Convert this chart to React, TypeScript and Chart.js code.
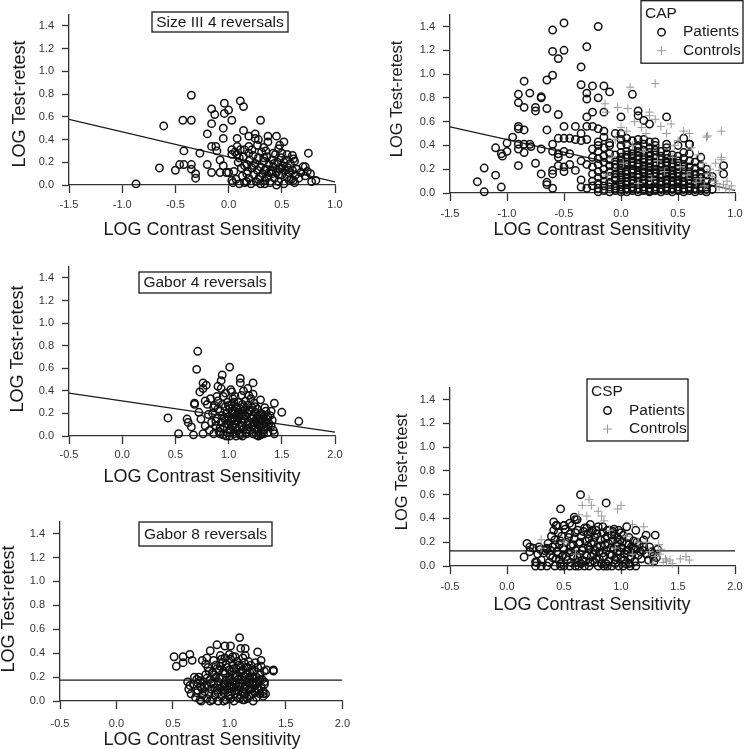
import React, { useEffect, useRef } from 'react';
import { Chart, registerables } from 'chart.js';
Chart.register(...registerables);

const FONT = '"Liberation Sans", Arial, Helvetica, sans-serif';

// ---------- tick labels ----------
const yTickValues = [0, 0.2, 0.4, 0.6, 0.8, 1.0, 1.2, 1.4];
const xTicksWide = [-1.5, -1.0, -0.5, 0.0, 0.5, 1.0];
const xTicksGabor = [-0.5, 0.0, 0.5, 1.0, 1.5, 2.0];

// ---------- Size III 4 reversals ----------
const sizeIIIPatients = [
  [-0.87, 0.01], [-0.65, 0.15], [-0.61, 0.52], [-0.5, 0.13], [-0.46, 0.18], [-0.42, 0.18], [-0.43, 0.57],
  [-0.42, 0.3], [-0.35, 0.79], [-0.35, 0.57], [-0.35, 0.18], [-0.35, 0.14], [-0.31, 0.1], [-0.31, 0.06],
  [-0.27, 0.28], [-0.2, 0.45], [-0.2, 0.18], [-0.16, 0.67], [-0.16, 0.54], [-0.16, 0.34], [-0.16, 0.11],
  [-0.13, 0.62], [-0.12, 0.34], [-0.11, 0.3], [-0.08, 0.22], [-0.08, 0.11], [-0.04, 0.72], [-0.04, 0.63],
  [-0.05, 0.5], [-0.05, 0.41], [-0.05, 0.17], [0.0, 0.66], [-0.02, 0.11], [0.0, 0.11], [0.03, 0.57],
  [0.03, 0.31], [0.03, 0.27], [0.03, 0.04], [0.04, 0.02], [0.08, 0.41], [0.08, 0.34], [0.08, 0.27],
  [0.11, 0.74], [0.14, 0.69], [0.14, 0.48], [0.11, 0.31], [0.15, 0.17], [0.19, 0.43], [0.19, 0.34],
  [0.19, 0.28], [0.17, 0.1], [0.17, 0.03], [0.25, 0.45], [0.25, 0.41], [0.28, 0.4], [0.3, 0.57],
  [0.33, 0.33], [0.33, 0.24], [0.34, 0.13], [0.34, 0.01], [0.37, 0.43], [0.37, 0.38], [0.45, 0.43],
  [0.48, 0.35], [0.5, 0.28], [0.52, 0.38], [0.6, 0.26], [0.61, 0.23], [0.61, 0.04], [0.72, 0.16],
  [0.75, 0.28], [0.77, 0.1], [0.78, 0.03], [0.82, 0.04],
  [0.05, 0.12], [0.07, 0.05], [0.09, 0.2], [0.1, 0.01], [0.12, 0.15], [0.13, 0.08], [0.14, 0.25],
  [0.15, 0.02], [0.17, 0.18], [0.18, 0.12], [0.19, 0.06], [0.2, 0.22], [0.21, 0.01], [0.22, 0.15],
  [0.23, 0.26], [0.24, 0.09], [0.25, 0.19], [0.26, 0.03], [0.27, 0.13], [0.28, 0.24], [0.29, 0.07],
  [0.3, 0.16], [0.31, 0.29], [0.32, 0.1], [0.33, 0.21], [0.34, 0.04], [0.35, 0.14], [0.36, 0.25],
  [0.37, 0.08], [0.38, 0.18], [0.39, 0.02], [0.4, 0.12], [0.41, 0.22], [0.42, 0.16], [0.43, 0.06],
  [0.44, 0.27], [0.45, 0.11], [0.46, 0.2], [0.47, 0.03], [0.48, 0.14], [0.49, 0.24], [0.5, 0.09],
  [0.51, 0.17], [0.52, 0.01], [0.53, 0.13], [0.54, 0.22], [0.55, 0.07], [0.56, 0.15], [0.57, 0.11],
  [0.58, 0.19], [0.59, 0.05], [0.6, 0.13], [0.62, 0.02], [0.63, 0.09], [0.64, 0.14], [0.66, 0.06],
  [0.68, 0.11], [0.7, 0.16], [0.72, 0.08], [0.74, 0.12], [0.22, 0.31], [0.27, 0.35], [0.35, 0.3],
  [0.42, 0.28], [0.47, 0.32], [0.15, 0.31], [0.1, 0.24], [0.06, 0.29], [0.3, 0.01], [0.45, 0.0],
  [0.55, 0.27], [0.62, 0.21], [0.38, 0.11], [0.43, 0.19], [0.47, 0.09], [0.52, 0.2], [0.28, 0.05],
  [0.24, 0.17], [0.36, 0.06], [0.41, 0.1], [0.5, 0.15], [0.57, 0.04],
];
const sizeIIIFit = [[-1.5, 0.577], [1.0, 0.028]];

// ---------- CAP ----------
const capPatientsSparse = [
  [-1.26, 0.095], [-1.2, 0.21], [-1.2, 0.01], [-1.1, 0.38], [-1.1, 0.15], [-1.05, 0.05], [-1.05, 0.33],
  [-1.04, 0.31], [-1.0, 0.42], [-1.0, 0.35], [-0.95, 0.47], [-0.9, 0.83], [-0.9, 0.76], [-0.9, 0.56],
  [-0.9, 0.54], [-0.9, 0.41], [-0.9, 0.37], [-0.9, 0.23], [-0.85, 0.94], [-0.85, 0.72], [-0.85, 0.53],
  [-0.85, 0.41], [-0.85, 0.34], [-0.8, 0.84], [-0.8, 0.41], [-0.79, 0.39], [-0.75, 0.72], [-0.75, 0.69],
  [-0.75, 0.25], [-0.7, 0.81], [-0.7, 0.8], [-0.7, 0.37], [-0.7, 0.16], [-0.65, 0.95], [-0.65, 0.71],
  [-0.65, 0.53], [-0.65, 0.09], [-0.65, 0.07], [-0.6, 1.37], [-0.6, 1.19], [-0.6, 0.99], [-0.6, 0.41],
  [-0.6, 0.35], [-0.6, 0.19], [-0.6, 0.16], [-0.6, 0.04], [-0.55, 1.13], [-0.55, 0.66], [-0.55, 0.46],
  [-0.55, 0.33], [-0.55, 0.3], [-0.55, 0.23], [-0.5, 1.43], [-0.5, 1.2], [-0.5, 0.56], [-0.5, 0.46],
  [-0.5, 0.35], [-0.5, 0.22], [-0.5, 0.18], [-0.45, 0.46], [-0.45, 0.33], [-0.45, 0.24], [-0.4, 0.56],
  [-0.4, 0.45], [-0.4, 0.19], [-0.35, 1.06], [-0.35, 0.91], [-0.35, 0.5], [-0.35, 0.44], [-0.35, 0.27],
  [-0.35, 0.11], [-0.35, 0.05], [-0.3, 1.23], [-0.3, 0.84], [-0.3, 0.79], [-0.3, 0.64], [-0.3, 0.56],
  [-0.3, 0.45], [-0.3, 0.24], [-0.3, 0.04], [-0.25, 0.9], [-0.25, 0.68], [-0.25, 0.56], [-0.25, 0.37],
  [-0.2, 1.4], [-0.2, 0.8], [-0.2, 0.54], [-0.2, 0.43], [-0.15, 0.9], [-0.15, 0.68], [-0.1, 0.85],
  [-0.1, 0.42], [0.0, 0.64], [0.05, 0.46], [0.1, 0.83], [0.15, 0.65], [0.15, 0.69], [0.2, 0.61],
  [0.25, 0.58], [0.3, 0.43], [0.4, 0.64], [0.55, 0.46], [0.6, 0.41], [0.9, 0.23], [0.9, 0.16],
];
const capColumnX = [-0.25, -0.2, -0.15, -0.1, -0.05, 0.0, 0.05, 0.1, 0.15, 0.2, 0.25, 0.3, 0.35, 0.4, 0.45, 0.5, 0.55, 0.6, 0.65, 0.7, 0.75, 0.8];
const capColumnY = [
  [0.06, 0.1, 0.16, 0.22, 0.3],
  [0.01, 0.04, 0.08, 0.13, 0.18, 0.24, 0.29, 0.35, 0.4],
  [0.02, 0.06, 0.1, 0.15, 0.2, 0.26, 0.31, 0.38, 0.47, 0.52],
  [0.01, 0.05, 0.09, 0.14, 0.18, 0.23, 0.28, 0.33, 0.4],
  [0.02, 0.04, 0.06, 0.11, 0.13, 0.16, 0.21, 0.24, 0.27, 0.32, 0.5],
  [0.01, 0.03, 0.05, 0.07, 0.09, 0.11, 0.13, 0.15, 0.17, 0.19, 0.21, 0.23, 0.25, 0.27, 0.3, 0.34, 0.4, 0.45, 0.5],
  [0.01, 0.03, 0.04, 0.07, 0.09, 0.1, 0.13, 0.16, 0.18, 0.19, 0.22, 0.24, 0.26, 0.3, 0.32, 0.35, 0.41],
  [0.02, 0.04, 0.05, 0.08, 0.1, 0.11, 0.14, 0.17, 0.19, 0.2, 0.23, 0.26, 0.29, 0.31, 0.33, 0.37, 0.44],
  [0.01, 0.03, 0.04, 0.07, 0.09, 0.1, 0.13, 0.15, 0.16, 0.19, 0.22, 0.24, 0.25, 0.28, 0.31, 0.35, 0.38, 0.4, 0.45],
  [0.02, 0.03, 0.05, 0.08, 0.1, 0.11, 0.14, 0.17, 0.18, 0.2, 0.23, 0.26, 0.28, 0.29, 0.32, 0.36, 0.41, 0.45],
  [0.01, 0.02, 0.04, 0.07, 0.09, 0.1, 0.13, 0.16, 0.17, 0.19, 0.22, 0.25, 0.27, 0.28, 0.31, 0.34, 0.38, 0.43],
  [0.02, 0.03, 0.05, 0.08, 0.1, 0.11, 0.14, 0.16, 0.17, 0.2, 0.23, 0.25, 0.26, 0.29, 0.32, 0.36, 0.4],
  [0.01, 0.03, 0.04, 0.07, 0.09, 0.1, 0.13, 0.15, 0.16, 0.19, 0.22, 0.24, 0.25, 0.28, 0.31, 0.35],
  [0.02, 0.04, 0.05, 0.08, 0.1, 0.11, 0.14, 0.16, 0.17, 0.2, 0.23, 0.25, 0.26, 0.29, 0.33, 0.38, 0.41],
  [0.01, 0.03, 0.04, 0.07, 0.09, 0.1, 0.13, 0.15, 0.16, 0.19, 0.22, 0.24, 0.25, 0.28, 0.32],
  [0.02, 0.03, 0.05, 0.08, 0.1, 0.11, 0.14, 0.16, 0.17, 0.2, 0.23, 0.27, 0.31, 0.4],
  [0.01, 0.03, 0.04, 0.07, 0.09, 0.1, 0.13, 0.16, 0.2, 0.22, 0.24, 0.29, 0.34],
  [0.02, 0.04, 0.05, 0.08, 0.11, 0.14, 0.16, 0.18, 0.22, 0.27, 0.33, 0.41],
  [0.01, 0.03, 0.04, 0.08, 0.1, 0.12, 0.16, 0.21, 0.26],
  [0.02, 0.04, 0.05, 0.09, 0.13, 0.16, 0.18, 0.23, 0.3],
  [0.01, 0.03, 0.05, 0.1, 0.15, 0.2],
  [0.03, 0.09, 0.14],
];
const capControls = [
  [0.08, 0.89], [0.3, 0.92], [-0.14, 0.75], [-0.13, 0.68], [-0.03, 0.72], [0.06, 0.71], [0.25, 0.68],
  [0.25, 0.65], [0.3, 0.62], [0.44, 0.58], [0.76, 0.48], [0.88, 0.52], [0.88, 0.28], [0.86, 0.19],
  [0.82, 0.1], [0.9, 0.07], [0.76, 0.16], [0.12, 0.6], [0.18, 0.55], [0.35, 0.56], [0.22, 0.5],
  [0.0, 0.55], [-0.05, 0.45], [0.05, 0.52], [0.4, 0.5], [0.5, 0.44], [0.62, 0.38], [0.68, 0.32],
  [0.72, 0.25], [0.78, 0.2], [0.8, 0.14], [0.84, 0.08], [0.86, 0.05], [0.92, 0.04], [0.95, 0.03],
  [0.7, 0.12], [0.73, 0.06], [0.66, 0.09], [0.58, 0.15], [0.52, 0.22], [0.45, 0.3], [0.38, 0.18],
  [0.32, 0.27], [0.27, 0.12], [0.2, 0.35], [0.15, 0.08], [0.1, 0.4], [0.02, 0.25], [-0.08, 0.3],
  [-0.12, 0.15], [0.6, 0.5], [0.55, 0.52], [0.47, 0.4], [0.83, 0.25], [0.93, 0.1], [0.97, 0.06],
  [0.88, 0.3], [0.75, 0.47],
];
const capFit = [[-1.5, 0.556], [1.0, 0.022]];

// ---------- Gabor 4 reversals ----------
const gabor4Patients = [
  [0.43, 0.16], [0.53, 0.02], [0.61, 0.15], [0.62, 0.12], [0.65, 0.08], [0.67, 0.01], [0.71, 0.75],
  [0.7, 0.59], [0.68, 0.29], [0.68, 0.28], [0.72, 0.21], [0.73, 0.39], [0.74, 0.15], [0.76, 0.47],
  [0.76, 0.42], [0.78, 0.31], [0.79, 0.45], [0.78, 0.09], [0.76, 0.02], [0.81, 0.19], [0.86, 0.25],
  [0.89, 0.35], [0.9, 0.44], [0.93, 0.49], [0.94, 0.54], [1.01, 0.61], [1.03, 0.39], [1.11, 0.51],
  [1.11, 0.47], [1.23, 0.47], [1.18, 0.42], [1.23, 0.37], [1.3, 0.32], [1.34, 0.25], [1.43, 0.29],
  [1.43, 0.02], [1.4, 0.22], [1.5, 0.21], [1.66, 0.13], [1.37, 0.08],
  [0.82, 0.05], [0.84, 0.12], [0.85, 0.2], [0.86, 0.02], [0.87, 0.27], [0.88, 0.09], [0.89, 0.16],
  [0.9, 0.31], [0.91, 0.04], [0.92, 0.22], [0.93, 0.12], [0.94, 0.18], [0.95, 0.01], [0.95, 0.35],
  [0.96, 0.08], [0.97, 0.26], [0.97, 0.14], [0.98, 0.2], [0.99, 0.03], [0.99, 0.3], [1.0, 0.1],
  [1.0, 0.17], [1.01, 0.24], [1.01, 0.0], [1.02, 0.06], [1.02, 0.13], [1.03, 0.2], [1.03, 0.28],
  [1.04, 0.33], [1.04, 0.09], [1.05, 0.16], [1.05, 0.02], [1.06, 0.22], [1.06, 0.11], [1.07, 0.18],
  [1.07, 0.26], [1.08, 0.05], [1.08, 0.14], [1.09, 0.21], [1.09, 0.3], [1.1, 0.08], [1.1, 0.17],
  [1.11, 0.24], [1.11, 0.01], [1.12, 0.12], [1.12, 0.36], [1.13, 0.19], [1.13, 0.28], [1.14, 0.06],
  [1.15, 0.15], [1.15, 0.23], [1.16, 0.03], [1.16, 0.31], [1.17, 0.1], [1.18, 0.2], [1.18, 0.27],
  [1.19, 0.13], [1.2, 0.05], [1.2, 0.22], [1.21, 0.16], [1.21, 0.33], [1.22, 0.09], [1.22, 0.25],
  [1.23, 0.02], [1.23, 0.18], [1.24, 0.12], [1.24, 0.29], [1.25, 0.07], [1.25, 0.21], [1.26, 0.15],
  [1.26, 0.01], [1.27, 0.1], [1.27, 0.24], [1.28, 0.04], [1.28, 0.18], [1.29, 0.13], [1.3, 0.08],
  [1.3, 0.2], [1.31, 0.02], [1.31, 0.15], [1.32, 0.1], [1.33, 0.05], [1.33, 0.17], [1.34, 0.12],
  [1.35, 0.08], [1.35, 0.22], [1.36, 0.15], [1.37, 0.03], [1.38, 0.11], [1.39, 0.18], [1.4, 0.09],
  [1.41, 0.14], [1.42, 0.05], [0.8, 0.28], [0.83, 0.33], [0.93, 0.42], [0.97, 0.38], [1.02, 0.41],
  [1.06, 0.35], [1.14, 0.4], [1.19, 0.36], [1.07, 0.0], [0.98, 0.0], [1.13, 0.0], [1.28, 0.0],
  [1.3, 0.01], [0.92, 0.02], [1.17, 0.02],
  [0.88, 0.13], [0.9, 0.24], [0.92, 0.07], [0.94, 0.28], [0.96, 0.16], [0.98, 0.11], [1.0, 0.27],
  [1.01, 0.05], [1.03, 0.15], [1.04, 0.22], [1.05, 0.3], [1.06, 0.07], [1.08, 0.25], [1.09, 0.16],
  [1.1, 0.02], [1.12, 0.2], [1.13, 0.09], [1.14, 0.26], [1.16, 0.18], [1.17, 0.06], [1.19, 0.23],
  [1.2, 0.1], [1.22, 0.15], [1.24, 0.06], [1.25, 0.26], [1.27, 0.17], [1.29, 0.09], [1.3, 0.14],
  [1.32, 0.19], [1.33, 0.02], [1.35, 0.12], [1.37, 0.17],
];
const gabor4Fit = [[-0.5, 0.38], [2.0, 0.035]];

// ---------- Gabor 8 reversals ----------
const gabor8Patients = [
  [0.51, 0.37], [0.53, 0.29], [0.59, 0.37], [0.59, 0.32], [0.65, 0.39], [0.67, 0.34], [0.63, 0.16],
  [0.65, 0.13], [0.76, 0.34], [0.79, 0.31], [0.8, 0.36], [0.83, 0.42], [0.89, 0.47], [0.96, 0.46],
  [1.01, 0.46], [1.09, 0.53], [1.1, 0.44], [1.14, 0.44], [1.25, 0.41], [1.28, 0.34], [1.33, 0.26],
  [1.39, 0.26], [1.39, 0.25], [1.31, 0.16], [1.3, 0.06],
  [0.64, 0.1], [0.66, 0.06], [0.68, 0.14], [0.7, 0.03], [0.71, 0.18], [0.72, 0.09], [0.73, 0.2],
  [0.74, 0.01], [0.75, 0.12], [0.76, 0.05], [0.77, 0.16], [0.78, 0.08], [0.79, 0.22], [0.8, 0.02],
  [0.8, 0.13], [0.81, 0.28], [0.82, 0.06], [0.83, 0.18], [0.84, 0.1], [0.85, 0.01], [0.85, 0.24],
  [0.86, 0.14], [0.87, 0.05], [0.88, 0.2], [0.88, 0.3], [0.89, 0.09], [0.9, 0.16], [0.9, 0.0],
  [0.91, 0.26], [0.92, 0.11], [0.93, 0.04], [0.93, 0.19], [0.94, 0.32], [0.95, 0.14], [0.95, 0.07],
  [0.96, 0.23], [0.97, 0.01], [0.97, 0.17], [0.98, 0.1], [0.98, 0.28], [0.99, 0.05], [1.0, 0.2],
  [1.0, 0.13], [1.01, 0.35], [1.01, 0.02], [1.02, 0.08], [1.02, 0.25], [1.03, 0.16], [1.03, 0.3],
  [1.04, 0.11], [1.04, 0.0], [1.05, 0.21], [1.05, 0.06], [1.06, 0.27], [1.06, 0.14], [1.07, 0.33],
  [1.07, 0.03], [1.08, 0.18], [1.08, 0.09], [1.09, 0.24], [1.09, 0.12], [1.1, 0.29], [1.1, 0.05],
  [1.11, 0.2], [1.11, 0.15], [1.12, 0.01], [1.12, 0.26], [1.13, 0.1], [1.13, 0.32], [1.14, 0.17],
  [1.14, 0.06], [1.15, 0.22], [1.15, 0.13], [1.16, 0.28], [1.16, 0.02], [1.17, 0.19], [1.17, 0.09],
  [1.18, 0.24], [1.18, 0.14], [1.19, 0.05], [1.19, 0.3], [1.2, 0.11], [1.2, 0.2], [1.21, 0.0],
  [1.21, 0.16], [1.22, 0.25], [1.22, 0.08], [1.23, 0.13], [1.24, 0.2], [1.24, 0.03], [1.25, 0.1],
  [1.25, 0.28], [1.26, 0.16], [1.27, 0.06], [1.27, 0.22], [1.28, 0.12], [1.29, 0.18], [1.3, 0.08],
  [1.3, 0.04], [1.31, 0.14], [1.31, 0.25], [1.32, 0.06], [0.75, 0.0], [0.83, 0.0], [0.95, 0.0],
  [1.13, 0.01], [0.72, 0.15], [0.69, 0.2], [0.86, 0.34], [0.92, 0.38], [0.96, 0.36], [1.0, 0.39],
  [1.05, 0.37], [1.12, 0.36], [1.17, 0.33], [1.23, 0.32], [1.28, 0.29],
  [0.86, 0.22], [0.87, 0.11], [0.89, 0.27], [0.9, 0.07], [0.91, 0.19], [0.92, 0.29], [0.94, 0.09],
  [0.95, 0.25], [0.96, 0.12], [0.97, 0.31], [0.99, 0.15], [1.0, 0.26], [1.0, 0.04], [1.01, 0.18],
  [1.02, 0.12], [1.03, 0.22], [1.04, 0.27], [1.05, 0.15], [1.06, 0.09], [1.07, 0.21], [1.08, 0.3],
  [1.08, 0.13], [1.09, 0.02], [1.1, 0.18], [1.11, 0.25], [1.12, 0.08], [1.13, 0.21], [1.14, 0.12],
  [1.15, 0.28], [1.16, 0.16], [1.17, 0.04], [1.18, 0.2], [1.19, 0.1], [1.2, 0.26], [1.21, 0.14],
  [1.22, 0.19], [1.23, 0.07], [1.24, 0.15], [1.26, 0.09], [1.27, 0.18], [0.78, 0.12], [0.8, 0.19],
  [0.82, 0.25], [0.84, 0.15], [0.76, 0.1], [0.74, 0.17], [0.71, 0.07], [0.93, 0.35], [1.03, 0.37],
  [1.14, 0.38],
];
const gabor8Fit = [[-0.5, 0.175], [2.0, 0.175]];

// ---------- CSP ----------
const cspPatients = [
  [0.15, 0.076], [0.175, 0.19], [0.2, 0.16], [0.25, 0.035], [0.29, 0.14], [0.35, 0.14], [0.41, 0.37],
  [0.43, 0.34], [0.47, 0.48], [0.5, 0.34], [0.59, 0.41], [0.615, 0.39], [0.645, 0.6], [0.73, 0.35],
  [0.87, 0.53], [0.94, 0.31], [1.05, 0.33], [1.13, 0.3], [1.22, 0.26], [1.3, 0.26], [1.32, 0.14],
  [1.28, 0.08], [1.31, 0.07],
  [0.25, 0.0], [0.3, 0.0], [0.35, 0.0], [0.42, 0.0], [0.47, 0.0], [0.5, 0.0], [0.55, 0.0], [0.6, 0.0],
  [0.63, 0.0], [0.68, 0.0], [0.72, 0.0], [0.8, 0.0], [0.85, 0.0], [0.88, 0.0], [0.92, 0.0], [0.98, 0.0],
  [1.02, 0.0], [1.08, 0.0], [1.13, 0.0],
  [0.3, 0.05], [0.32, 0.11], [0.35, 0.15], [0.37, 0.03], [0.38, 0.09], [0.4, 0.16], [0.42, 0.22],
  [0.43, 0.06], [0.44, 0.12], [0.45, 0.28], [0.46, 0.18], [0.47, 0.02], [0.48, 0.25], [0.49, 0.09],
  [0.5, 0.14], [0.51, 0.31], [0.52, 0.2], [0.53, 0.05], [0.54, 0.11], [0.55, 0.27], [0.56, 0.17],
  [0.57, 0.34], [0.58, 0.08], [0.59, 0.23], [0.6, 0.13], [0.61, 0.03], [0.62, 0.3], [0.63, 0.19],
  [0.64, 0.1], [0.65, 0.25], [0.66, 0.05], [0.67, 0.15], [0.68, 0.32], [0.69, 0.21], [0.7, 0.09],
  [0.71, 0.27], [0.72, 0.14], [0.73, 0.03], [0.74, 0.19], [0.75, 0.3], [0.76, 0.1], [0.77, 0.24],
  [0.78, 0.06], [0.79, 0.16], [0.8, 0.33], [0.81, 0.12], [0.82, 0.22], [0.83, 0.02], [0.84, 0.28],
  [0.85, 0.08], [0.86, 0.18], [0.87, 0.13], [0.88, 0.25], [0.89, 0.04], [0.9, 0.3], [0.91, 0.15],
  [0.92, 0.09], [0.93, 0.21], [0.94, 0.27], [0.95, 0.05], [0.96, 0.17], [0.97, 0.12], [0.98, 0.3],
  [0.99, 0.22], [1.0, 0.07], [1.01, 0.15], [1.02, 0.26], [1.03, 0.1], [1.04, 0.02], [1.05, 0.19],
  [1.06, 0.13], [1.07, 0.24], [1.08, 0.06], [1.09, 0.16], [1.1, 0.11], [1.11, 0.21], [1.12, 0.04],
  [1.13, 0.14], [1.15, 0.09], [1.16, 0.18], [1.18, 0.06], [1.19, 0.13], [1.2, 0.22], [1.22, 0.1],
  [1.24, 0.05], [1.25, 0.16], [1.27, 0.12], [1.29, 0.04], [0.2, 0.12], [0.23, 0.15], [0.27, 0.1],
  [0.28, 0.16], [0.33, 0.13], [0.26, 0.03], [0.36, 0.19], [0.39, 0.25], [0.41, 0.3], [0.44, 0.34],
  [0.5, 0.34], [0.55, 0.36], [0.6, 0.39], [0.7, 0.32], [0.74, 0.28], [0.78, 0.3], [0.84, 0.33],
  [0.88, 0.3], [0.93, 0.29], [0.97, 0.24], [1.0, 0.28],
  [0.38, 0.13], [0.4, 0.07], [0.42, 0.18], [0.45, 0.1], [0.47, 0.21], [0.49, 0.15], [0.52, 0.08],
  [0.54, 0.24], [0.56, 0.12], [0.58, 0.18], [0.6, 0.28], [0.62, 0.07], [0.64, 0.2], [0.66, 0.13],
  [0.67, 0.29], [0.69, 0.04], [0.71, 0.17], [0.72, 0.23], [0.74, 0.08], [0.76, 0.2], [0.77, 0.13],
  [0.79, 0.27], [0.81, 0.06], [0.82, 0.17], [0.84, 0.11], [0.86, 0.23], [0.87, 0.02], [0.89, 0.19],
  [0.9, 0.1], [0.92, 0.26], [0.94, 0.14], [0.96, 0.07], [0.97, 0.2], [0.99, 0.12], [1.01, 0.2],
  [1.03, 0.05], [1.05, 0.13], [1.07, 0.18], [1.09, 0.08], [1.11, 0.15], [1.14, 0.2], [1.17, 0.12],
  [1.2, 0.16], [0.46, 0.05], [0.56, 0.03], [0.65, 0.02], [0.77, 0.03], [0.95, 0.02], [1.07, 0.02],
];
const cspControls = [
  [0.72, 0.56], [0.66, 0.51], [0.74, 0.51], [0.8, 0.46], [0.83, 0.42], [0.97, 0.48], [1.0, 0.51],
  [0.63, 0.43], [0.3, 0.15], [0.3, 0.22], [1.1, 0.35], [1.2, 0.33], [1.39, 0.06], [1.4, 0.04],
  [1.43, 0.05], [1.52, 0.06], [1.57, 0.08], [1.6, 0.05], [1.34, 0.1], [1.37, 0.03], [1.25, 0.12],
  [1.3, 0.08], [1.15, 0.2], [1.05, 0.25], [0.9, 0.3], [0.85, 0.38], [0.7, 0.42], [1.35, 0.14],
  [1.28, 0.02], [1.45, 0.02], [0.5, 0.2], [0.6, 0.1], [1.1, 0.1], [0.95, 0.15], [1.22, 0.2], [1.33, 0.18],
];
const cspFit = [[-0.5, 0.128], [2.0, 0.128]];

// ---------- panel layout (page pixels) ----------
type Box = { x1: number; y1: number; x2: number; y2: number; text: string };
type PanelCfg = {
  area: { l: number; r: number; t: number; b: number };
  xMin: number; xMax: number; xTicks: number[];
  xTickPad: number; bottomH: number;
  yTitle: { x: number; y: number; size: number };
  xTitle: { x: number; y: number };
  patients: number[][]; controls?: number[][]; fit: number[][];
  box?: Box; legend?: Box;
};

const capPatients = capPatientsSparse.concat(
  ...capColumnX.map((x, i) => capColumnY[i].map((y) => [x, y]))
);

const panels: PanelCfg[] = [
  {
    area: { l: 69, r: 335, t: 9, b: 185 }, xMin: -1.5, xMax: 1.0, xTicks: xTicksWide, xTickPad: 5, bottomH: 60,
    yTitle: { x: 20, y: 104, size: 18 }, xTitle: { x: 202, y: 230 },
    patients: sizeIIIPatients, fit: sizeIIIFit,
    box: { x1: 152, y1: 12, x2: 288, y2: 32, text: 'Size III 4 reversals' },
  },
  {
    area: { l: 450, r: 735, t: 9, b: 193 }, xMin: -1.5, xMax: 1.0, xTicks: xTicksWide, xTickPad: 6, bottomH: 60,
    yTitle: { x: 397, y: 99, size: 16.5 }, xTitle: { x: 592, y: 230 },
    patients: capPatients, controls: capControls, fit: capFit,
    legend: { x1: 641, y1: 0.5, x2: 743, y2: 63, text: 'CAP' },
  },
  {
    area: { l: 69, r: 335, t: 261, b: 436 }, xMin: -0.5, xMax: 2.0, xTicks: xTicksGabor, xTickPad: 4, bottomH: 60,
    yTitle: { x: 18, y: 349, size: 18 }, xTitle: { x: 202, y: 477 },
    patients: gabor4Patients, fit: gabor4Fit,
    box: { x1: 139, y1: 272, x2: 271, y2: 293, text: 'Gabor 4 reversals' },
  },
  {
    area: { l: 60, r: 344, t: 516, b: 701 }, xMin: -0.5, xMax: 2.0, xTicks: xTicksGabor, xTickPad: 8, bottomH: 48,
    yTitle: { x: 9, y: 609, size: 18 }, xTitle: { x: 202, y: 740 },
    patients: gabor8Patients, fit: gabor8Fit,
    box: { x1: 139, y1: 522, x2: 272, y2: 546, text: 'Gabor 8 reversals' },
  },
  {
    area: { l: 450, r: 735, t: 382, b: 566 }, xMin: -0.5, xMax: 2.0, xTicks: xTicksGabor, xTickPad: 6, bottomH: 60,
    yTitle: { x: 402, y: 472, size: 16.5 }, xTitle: { x: 592, y: 605 },
    patients: cspPatients, controls: cspControls, fit: cspFit,
    legend: { x1: 587, y1: 379, x2: 688, y2: 441, text: 'CSP' },
  },
];

const LEFT_W = 60;
const TOP_PAD = 9;
const RIGHT_PAD = 14;

function geom(p: PanelCfg) {
  const cx = p.area.l - LEFT_W;
  const cy = p.area.t - TOP_PAD;
  const w = p.area.r - cx + RIGHT_PAD;
  const h = p.area.b - cy + p.bottomH;
  return { cx, cy, w, h };
}

function Panel({ p }: { p: PanelCfg }) {
  const ref = useRef<HTMLCanvasElement>(null);
  const g = geom(p);
  useEffect(() => {
    if (!ref.current) return;
    const overlay = {
      id: 'overlay',
      afterDraw(chart: any) {
        const ctx = chart.ctx as CanvasRenderingContext2D;
        ctx.save();
        ctx.fillStyle = '#1a1a1a';
        ctx.save();
        ctx.translate(p.yTitle.x - g.cx, p.yTitle.y - g.cy);
        ctx.rotate(-Math.PI / 2);
        ctx.font = `${p.yTitle.size}px ${FONT}`;
        ctx.textAlign = 'center';
        ctx.textBaseline = 'middle';
        ctx.fillText('LOG Test-retest', 0, 0);
        ctx.restore();
        ctx.font = `18px ${FONT}`;
        ctx.textAlign = 'center';
        ctx.textBaseline = 'middle';
        ctx.fillText('LOG Contrast Sensitivity', p.xTitle.x - g.cx, p.xTitle.y - g.cy);
        ctx.lineWidth = 1.3;
        ctx.strokeStyle = '#1a1a1a';
        if (p.box) {
          const b = p.box;
          const x1 = b.x1 - g.cx, y1 = b.y1 - g.cy, bw = b.x2 - b.x1, bh = b.y2 - b.y1;
          ctx.fillStyle = '#fff';
          ctx.fillRect(x1, y1, bw, bh);
          ctx.strokeRect(x1, y1, bw, bh);
          ctx.fillStyle = '#1a1a1a';
          ctx.font = `15.5px ${FONT}`;
          ctx.fillText(b.text, x1 + bw / 2, y1 + bh / 2 + 0.5);
        }
        if (p.legend) {
          const b = p.legend;
          const x1 = b.x1 - g.cx, y1 = Math.max(0.7, b.y1 - g.cy), bw = b.x2 - b.x1, bh = b.y2 - b.y1;
          ctx.fillStyle = '#fff';
          ctx.fillRect(x1, y1, bw, bh);
          ctx.strokeRect(x1, y1, bw, bh);
          ctx.fillStyle = '#1a1a1a';
          ctx.font = `15.5px ${FONT}`;
          ctx.textAlign = 'left';
          ctx.fillText(b.text, x1 + 4, y1 + 13);
          ctx.fillText('Patients', x1 + 42, y1 + 31.5);
          ctx.fillText('Controls', x1 + 42, y1 + 50);
          ctx.beginPath();
          ctx.arc(x1 + 20.5, y1 + 31.5, 3.7, 0, Math.PI * 2);
          ctx.lineWidth = 1.5;
          ctx.strokeStyle = '#111';
          ctx.stroke();
          ctx.beginPath();
          ctx.strokeStyle = '#9a9a9a';
          ctx.lineWidth = 1;
          ctx.moveTo(x1 + 20.5 - 4.5, y1 + 50);
          ctx.lineTo(x1 + 20.5 + 4.5, y1 + 50);
          ctx.moveTo(x1 + 20.5, y1 + 50 - 4.5);
          ctx.lineTo(x1 + 20.5, y1 + 50 + 4.5);
          ctx.stroke();
        }
        ctx.restore();
      },
    };

    const datasets: any[] = [];
    datasets.push({
      label: 'fit',
      data: p.fit.map(([x, y]) => ({ x, y })),
      showLine: true,
      pointRadius: 0,
      borderColor: '#1a1a1a',
      borderWidth: 1.3,
      fill: false,
      order: 3,
    });
    datasets.push({
      label: 'Patients',
      data: p.patients.map(([x, y]) => ({ x, y })),
      pointStyle: 'circle',
      pointRadius: 3.7,
      pointBorderWidth: 1.5,
      borderColor: '#111',
      backgroundColor: 'rgba(0,0,0,0)',
      clip: false,
      order: 2,
    });
    if (p.controls) {
      datasets.push({
        label: 'Controls',
        data: p.controls.map(([x, y]) => ({ x, y })),
        pointStyle: 'cross',
        pointRadius: 4.2,
        pointBorderWidth: 1,
        borderColor: '#9a9a9a',
        backgroundColor: '#9a9a9a',
        clip: false,
        order: 1,
      });
    }

    const tickFont = { family: FONT, size: 11 };
    const chart = new Chart(ref.current, {
      type: 'scatter',
      data: { datasets },
      plugins: [overlay],
      options: {
        animation: false,
        responsive: false,
        maintainAspectRatio: false,
        devicePixelRatio: 1,
        layout: { padding: { left: 0, top: TOP_PAD, right: RIGHT_PAD, bottom: 0 } },
        plugins: { legend: { display: false }, tooltip: { enabled: false } },
        events: [],
        scales: {
          x: {
            type: 'linear',
            position: 'bottom',
            min: p.xMin,
            max: p.xMax,
            afterBuildTicks: (s: any) => { s.ticks = p.xTicks.map((v) => ({ value: v })); },
            afterFit: (s: any) => { s.height = p.bottomH; },
            ticks: {
              autoSkip: false, maxRotation: 0, padding: p.xTickPad, color: '#333', font: tickFont,
              callback: (v: any) => Number(v).toFixed(1),
            },
            grid: { drawOnChartArea: false, drawTicks: true, tickLength: 8, tickWidth: 1.3, tickColor: '#333' },
            border: { display: true, color: '#333', width: 1.3 },
          },
          y: {
            type: 'linear',
            position: 'left',
            min: 0,
            max: 1.5,
            afterBuildTicks: (s: any) => { s.ticks = yTickValues.map((v) => ({ value: v })); },
            afterFit: (s: any) => { s.width = LEFT_W; },
            ticks: {
              autoSkip: false, padding: 8, color: '#333', font: tickFont,
              callback: (v: any) => Number(v).toFixed(1),
            },
            grid: { drawOnChartArea: false, drawTicks: true, tickLength: 7, tickWidth: 1.3, tickColor: '#333' },
            border: { display: true, color: '#333', width: 1.3 },
          },
        },
      } as any,
    });
    return () => chart.destroy();
  }, []);
  return (
    <canvas
      ref={ref}
      width={g.w}
      height={g.h}
      style={{ position: 'absolute', left: g.cx, top: g.cy, width: g.w, height: g.h }}
    />
  );
}

export default function App() {
  return (
    <div style={{ position: 'fixed', left: 0, top: 0, width: 745, height: 749, overflow: 'hidden', background: '#fff' }}>
      {panels.map((p, i) => (
        <Panel key={i} p={p} />
      ))}
    </div>
  );
}
